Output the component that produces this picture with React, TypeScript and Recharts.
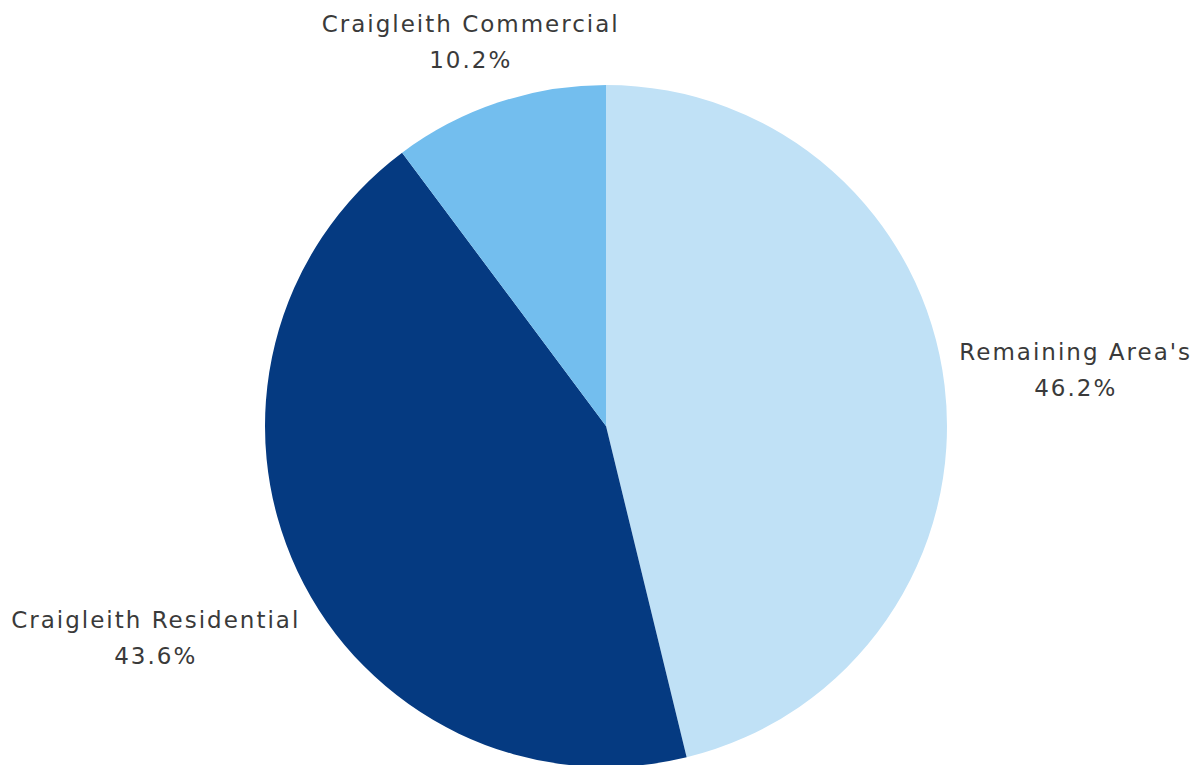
import React from "react";
import { PieChart, Pie, Cell } from "recharts";

const names = ["Remaining Area's", "Craigleith Residential", "Craigleith Commercial"];
const shares = [46.2, 43.6, 10.2];
const COLORS = ["#C0E1F6", "#053A81", "#73BEEE"];

const data = names.map((name, i) => ({ name, value: shares[i] }));

const RAD = Math.PI / 180;
const FONT = "'DejaVu Sans', sans-serif";
const FONT_SIZE = 23;
const SPACING = 2;
const LINE = 36;

// rough text width so the label box can sit just outside the pie
function textWidth(s: string) {
  if (typeof document === "undefined") return s.length * 14;
  const c = document.createElement("canvas").getContext("2d");
  if (!c) return s.length * 14;
  c.font = `${FONT_SIZE}px ${FONT}`;
  return c.measureText(s).width + s.length * SPACING;
}

function renderLabel(props: any) {
  const { cx, cy, midAngle, outerRadius, name, value } = props;
  const cos = Math.cos(-midAngle * RAD);
  const sin = Math.sin(-midAngle * RAD);
  const pct = `${Number(value).toFixed(1)}%`;
  const hw = Math.max(textWidth(name), textWidth(pct)) / 2;
  const hh = LINE / 2 + 12;
  // push the box out along the slice direction until it clears the pie
  const d = outerRadius + 13 + Math.abs(hw * cos) + Math.abs(hh * sin);
  const x = cx + d * cos;
  let y = cy + d * sin;
  // keep the label inside the chart area
  if (y - hh < 12) y = 12 + hh;
  return (
    <text
      x={x}
      y={y}
      textAnchor="middle"
      fill="#3a3a3a"
      style={{ fontFamily: FONT, fontSize: FONT_SIZE, letterSpacing: SPACING }}
    >
      <tspan x={x} dy={-LINE / 2 + 8}>{name}</tspan>
      <tspan x={x} dy={LINE}>{pct}</tspan>
    </text>
  );
}

export default function App() {
  return (
    <div style={{ position: "absolute", left: 0, top: 0, background: "#fff" }}>
      <PieChart width={1204} height={765} margin={{ top: 0, right: 0, bottom: 0, left: 0 }}>
        <Pie
          data={data}
          dataKey="value"
          nameKey="name"
          cx={606}
          cy={426}
          outerRadius={341}
          startAngle={90}
          endAngle={-270}
          stroke="none"
          labelLine={false}
          label={renderLabel}
          isAnimationActive={false}
        >
          {data.map((entry, i) => (
            <Cell key={`cell-${i}`} fill={COLORS[i]} />
          ))}
        </Pie>
      </PieChart>
    </div>
  );
}
